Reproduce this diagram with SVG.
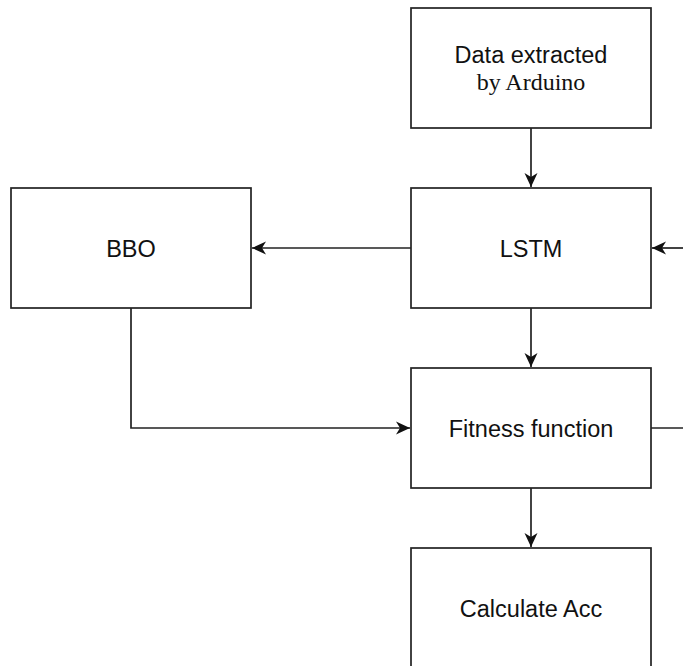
<svg xmlns="http://www.w3.org/2000/svg" width="683" height="666" viewBox="0 0 683 666">
<style>
.box{fill:#fff;stroke:#222;stroke-width:1.7}
.lbl{font-family:"Liberation Sans",Arial,sans-serif;font-size:23.5px;fill:#111;text-anchor:middle}
.ser{font-family:"Liberation Serif","Times New Roman",serif;font-size:24px;fill:#111;text-anchor:middle}
.edge{fill:none;stroke:#222;stroke-width:1.7}
</style>
<defs>
<marker id="arr" viewBox="0 0 15 14" refX="14" refY="7" markerWidth="15" markerHeight="14" markerUnits="userSpaceOnUse" orient="auto">
<path d="M0,0.5 L14,7 L0,13.5 L4,7 Z" fill="#111"/>
</marker>
</defs>
<rect width="683" height="666" fill="#fff"/>
<g id="connectors">
<path class="edge" d="M531,128 V187" marker-end="url(#arr)"/>
<path class="edge" d="M411,248 H252" marker-end="url(#arr)"/>
<path class="edge" d="M531,308 V367" marker-end="url(#arr)"/>
<path class="edge" d="M131,308 V428 H410" marker-end="url(#arr)"/>
<path class="edge" d="M531,488 V547" marker-end="url(#arr)"/>
<path class="edge" d="M651,428 H684"/>
<path class="edge" d="M684,248 H652" marker-end="url(#arr)"/>
</g>
<g id="data">
<rect class="box" x="411" y="8" width="240" height="120"/>
<text class="lbl" x="531" y="63">Data extracted</text>
<text class="ser" x="531" y="90">by Arduino</text>
</g>
<g id="lstm">
<rect class="box" x="411" y="188" width="240" height="120"/>
<text class="lbl" x="531" y="257">LSTM</text>
</g>
<g id="bbo">
<rect class="box" x="11" y="188" width="240" height="120"/>
<text class="lbl" x="131" y="257">BBO</text>
</g>
<g id="fitness">
<rect class="box" x="411" y="368" width="240" height="120"/>
<text class="lbl" x="531" y="437">Fitness function</text>
</g>
<g id="acc">
<rect class="box" x="411" y="548" width="240" height="120"/>
<text class="lbl" x="531" y="617">Calculate Acc</text>
</g>
</svg>
